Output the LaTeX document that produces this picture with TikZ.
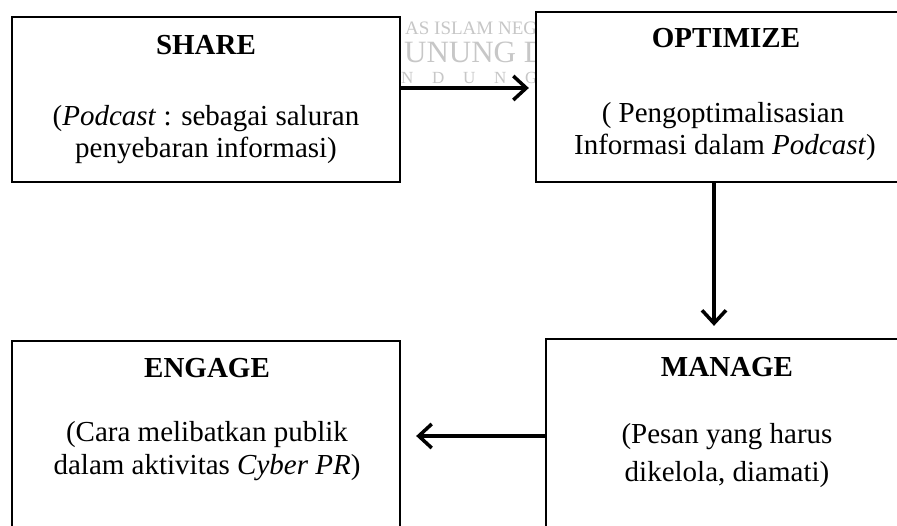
\documentclass[tikz,border=0pt]{standalone}
\usepackage{fontspec}
\setmainfont{Liberation Serif}
\usetikzlibrary{arrows.meta}
\begin{document}
\begin{tikzpicture}[x=1pt,y=-1pt,
  box/.style={draw=black, line width=2.3pt, fill=white, rectangle, inner sep=0pt},
  ttl/.style={anchor=base, font=\fontsize{29}{33}\selectfont\bfseries, inner sep=0pt},
  txt/.style={anchor=base, font=\fontsize{29}{33}\selectfont, inner sep=0pt},
  arr/.style={line width=3.5pt, -{Straight Barb[length=13pt,width=24pt]}},
  wm/.style={text=black!22, inner sep=0pt, anchor=base west}]
\useasboundingbox (0,0) rectangle (897,526);
\clip (0,0) rectangle (897,526);
\fill[white] (0,0) rectangle (897,526);

% faint watermark behind the boxes
\node[wm, font=\fontsize{19}{19}\selectfont] (wm1) at (405,35) {AS ISLAM NEGERI};
\node[wm, font=\fontsize{31}{31}\selectfont] (wm2) at (404,63) {UNUNG DJATI};
\node[wm, font=\fontsize{17}{17}\selectfont] (wm3) at (401,84)
  {\makebox[31pt][l]{N}\makebox[31pt][l]{D}\makebox[31pt][l]{U}\makebox[31pt][l]{N}G};

% boxes
\node[box, minimum width=388pt, minimum height=165pt] (share) at (206,99.5) {};
\node[box, minimum width=378pt, minimum height=170pt] (optimize) at (725,97) {};
\node[box, minimum width=362pt, minimum height=227pt] (manage) at (727,452.5) {};
\node[box, minimum width=388pt, minimum height=225pt] (engage) at (206,453.5) {};

% texts
\node[ttl] (shareT) at (206,55) {SHARE};
\node[txt] (shareA) at (206,126) {(\textit{Podcast} : sebagai saluran};
\node[txt] (shareB) at (206,158) {penyebaran informasi)};

\node[ttl] (optT) at (726,48) {OPTIMIZE};
\node[txt] (optA) at (723,123) {( Pengoptimalisasian};
\node[txt] (optB) at (725,155) {Informasi dalam \textit{Podcast})};

\node[ttl] (engT) at (207,378) {ENGAGE};
\node[txt] (engA) at (207,442) {(Cara melibatkan publik};
\node[txt] (engB) at (207,475) {dalam aktivitas \textit{Cyber PR})};

\node[ttl] (manT) at (727,377) {MANAGE};
\node[txt] (manA) at (727,443) {(Pesan yang harus};
\node[txt] (manB) at (727,481) {dikelola, diamati)};

% connectors
\coordinate (a1) at (0,88);
\coordinate (a2) at (714,0);
\coordinate (a3) at (0,436);
\draw[arr] (share.east |- a1) -- ([xshift=-6pt]optimize.west |- a1);
\draw[arr] (optimize.south -| a2) -- ([yshift=12pt]manage.north -| a2);
\draw[arr] (manage.west |- a3) -- ([xshift=15pt]engage.east |- a3);
\end{tikzpicture}
\end{document}
